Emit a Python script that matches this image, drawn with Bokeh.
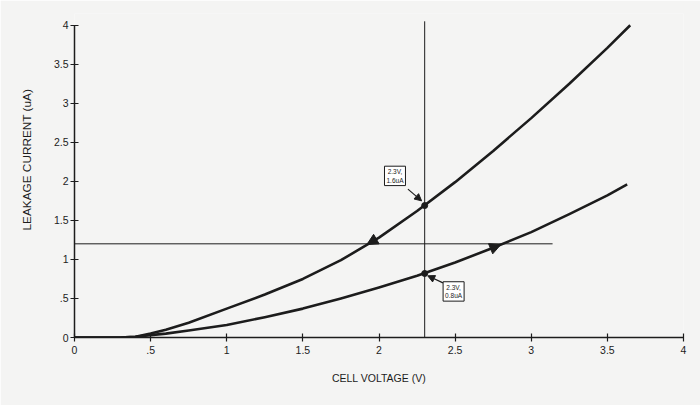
from bokeh.plotting import figure
from bokeh.models import Range1d, FixedTicker, Label, Arrow, NormalHead, Title
from bokeh.embed import file_html
from bokeh.resources import INLINE

# ---- data ----
upper_v = [0, 0.3, 0.4, 0.5, 0.6, 0.75, 1.0, 1.25, 1.5, 1.75, 2.0, 2.25, 2.5, 2.75, 3.0, 3.25, 3.5, 3.65]
upper_i = [0, 0.0, 0.01, 0.05, 0.10, 0.19, 0.37, 0.55, 0.75, 0.99, 1.28, 1.62, 1.99, 2.39, 2.81, 3.25, 3.71, 4.0]

lower_v = [0, 0.3, 0.4, 0.5, 0.6, 0.75, 1.0, 1.25, 1.5, 1.75, 2.0, 2.25, 2.5, 2.75, 3.0, 3.25, 3.5, 3.63]
lower_i = [0, 0.0, 0.01, 0.03, 0.05, 0.09, 0.16, 0.26, 0.37, 0.50, 0.64, 0.79, 0.96, 1.15, 1.35, 1.58, 1.82, 1.96]

hline_x = [0, 3.14]
hline_y = [1.2, 1.2]
vline_x = [2.3, 2.3]
vline_y = [0, 4.05]

marked_v = [2.3, 2.3]
marked_i = [1.69, 0.82]
marked_text = ["2.3V,\n1.6uA", "2.3V,\n0.8uA"]

tick_vals = [0, 0.5, 1, 1.5, 2, 2.5, 3, 3.5, 4]
tick_labels = ["0", ".5", "1", "1.5", "2", "2.5", "3", "3.5", "4"]

x_title = "CELL VOLTAGE (V)"
y_title = "LEAKAGE CURRENT (uA)"

# ---- figure ----
BG = "#f4f4f3"
INK = "#1c1c1c"
FONT = "Liberation Sans"

p = figure(width=700, height=405, output_backend="svg", toolbar_location=None,
           x_range=Range1d(0, 4), y_range=Range1d(0, 4.15),
           min_border_left=74, min_border_right=17, min_border_top=13, min_border_bottom=68)
p.background_fill_color = BG
p.border_fill_color = BG
p.outline_line_color = None
p.grid.visible = False

overrides = {v: t for v, t in zip(tick_vals, tick_labels)}
for ax in (p.xaxis[0], p.yaxis[0]):
    ax.ticker = FixedTicker(ticks=tick_vals)
    ax.major_label_overrides = overrides
    ax.bounds = (0, 4)
    ax.axis_line_color = INK
    ax.axis_line_width = 1.5
    ax.major_tick_line_color = INK
    ax.major_tick_line_width = 1.2
    ax.major_tick_in = 4
    ax.major_tick_out = 4
    ax.minor_tick_line_color = None
    ax.major_label_text_font = FONT
    ax.major_label_text_font_size = "10.5px"
    ax.major_label_text_color = INK

p.xaxis[0].major_label_standoff = 4
p.yaxis[0].major_label_standoff = 2
p.xaxis[0].axis_label = x_title
p.xaxis[0].axis_label_text_font = FONT
p.xaxis[0].axis_label_text_font_size = "10.5px"
p.xaxis[0].axis_label_text_font_style = "normal"
p.xaxis[0].axis_label_text_color = INK
p.xaxis[0].axis_label_standoff = 15

# y title as a side title, shifted up and out like the reference
p.add_layout(Title(text=y_title, align="left", offset=107, standoff=30, vertical_align="top",
                   text_font=FONT, text_font_size="11.8px", text_font_style="normal",
                   text_color=INK), "left")

# reference lines
p.line(hline_x, hline_y, line_color=INK, line_width=1)
p.line(vline_x, vline_y, line_color=INK, line_width=1)

# curves
p.line(upper_v, upper_i, line_color=INK, line_width=2.6, line_join="round")
p.line(lower_v, lower_i, line_color=INK, line_width=2.6, line_join="round")

# direction arrowheads on curves
p.add_layout(Arrow(end=NormalHead(size=11, fill_color=INK, line_color=INK),
                   x_start=2.0, y_start=1.28, x_end=1.92, y_end=1.19,
                   line_color=INK, line_width=1))
p.add_layout(Arrow(end=NormalHead(size=11, fill_color=INK, line_color=INK),
                   x_start=2.7, y_start=1.11, x_end=2.80, y_end=1.19,
                   line_color=INK, line_width=1))

# marked points
p.scatter(marked_v, marked_i, size=6, color=INK)

# annotation boxes and pointers
box_pos = [(2.105, 2.07), (2.49, 0.59)]
ptr = [((2.19, 1.90), (2.28, 1.75)), ((2.42, 0.70), (2.32, 0.79))]
for (bx, by), txt, ((xs, ys), (xe, ye)) in zip(box_pos, marked_text, ptr):
    p.add_layout(Label(x=bx, y=by, text=txt, text_align="center", text_baseline="middle",
                       text_font=FONT, text_font_size="6.5px", text_color=INK,
                       border_line_color=INK, border_line_width=1,
                       background_fill_color="white", padding=2))
    p.add_layout(Arrow(end=NormalHead(size=7, fill_color=INK, line_color=INK),
                       x_start=xs, y_start=ys, x_end=xe, y_end=ye,
                       line_color=INK, line_width=1.2))

open("out.html", "w").write(file_html(p, INLINE))
